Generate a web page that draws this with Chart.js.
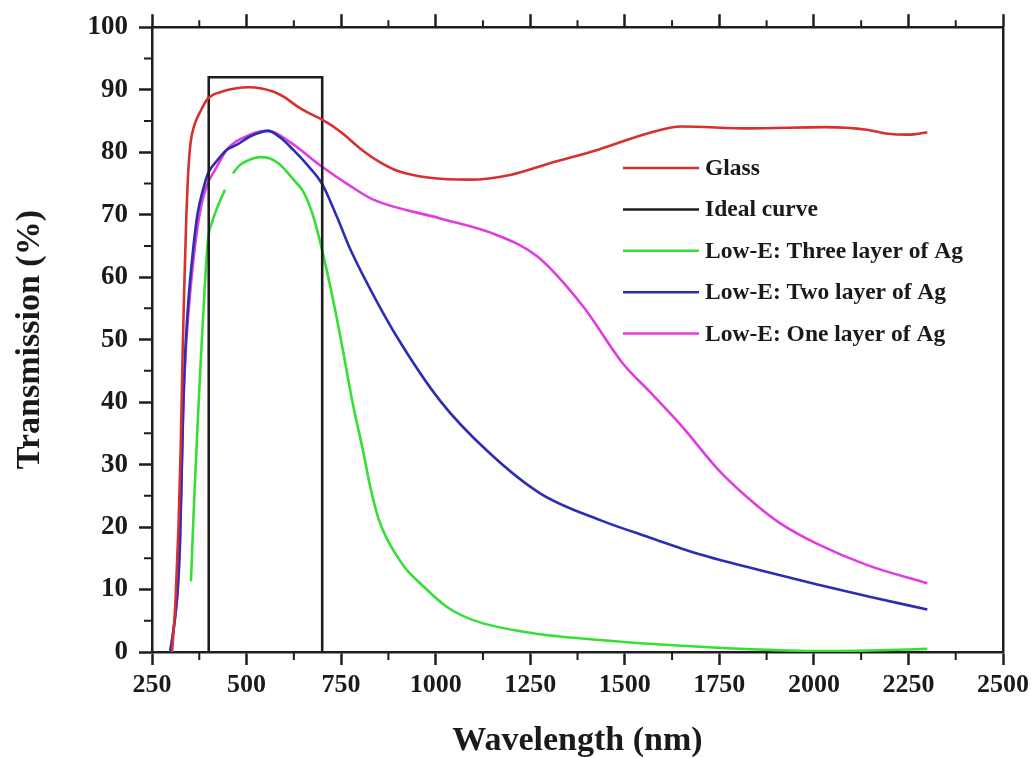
<!DOCTYPE html>
<html lang="en">
<head>
    <meta charset="UTF-8">
    <title>Transmission spectra</title>
    <script src="https://cdn.jsdelivr.net/npm/chart.js"></script>
    <style>
        html, body { margin: 0; padding: 0; background: #fff; }
        canvas { display: block; }
    </style>
</head>
<body>
    <canvas id="chart" width="1034" height="758"></canvas>

    <script>
        // tick labels
        const xTicks = [250, 500, 750, 1000, 1250, 1500, 1750, 2000, 2250, 2500];
        const yTicks = [0, 10, 20, 30, 40, 50, 60, 70, 80, 90, 100];

        // Glass
        const glassX = [303, 312, 320, 326, 331, 336, 341, 346, 352, 362, 377, 398, 430, 470, 505, 540, 570, 600, 630, 660, 700, 750, 800, 850, 900, 985, 1090, 1200, 1300, 1430, 1560, 1650, 1830, 2030, 2140, 2190, 2250, 2300];
        const glassY = [0, 8, 20, 33, 48, 60, 70, 77, 81.5, 84.3, 86.4, 88.6, 89.6, 90.2, 90.4, 90.2, 89.7, 88.8, 87.5, 86.4, 85.2, 83.2, 80.6, 78.5, 77.0, 75.9, 75.6, 76.4, 78.2, 80.4, 83.0, 84.1, 83.8, 84.0, 83.6, 83.0, 82.8, 83.2];

        // Ideal curve (box 400-700 nm)
        const idealX = [400, 400, 700, 700];
        const idealY = [0, 92, 92, 0];

        // Low-E: Three layer of Ag (gap between the two pieces)
        const threeX = [353, 356, 362, 368, 375, 381, 390, 398, 410, 425, 443, 453, 464, 480, 509, 535, 562, 585, 606, 630, 650, 675, 701, 730, 755, 780, 808, 828, 848, 868, 888, 920, 959, 1030, 1099, 1258, 1416, 1650, 1900, 2000, 2150, 2300];
        const threeY = [11.3, 16, 25, 33, 42, 49, 59, 66, 69, 71.5, 74, null, 76.6, 77.8, 78.8, 79.2, 79.0, 78.2, 76.9, 75.2, 73.7, 70, 64, 56, 48.2, 40, 32.2, 26.2, 21.5, 18.5, 16.3, 13.4, 11, 7.2, 5.1, 3, 2, 1.0, 0.3, 0.15, 0.25, 0.5];

        // Low-E: Two layer of Ag
        const twoX = [298, 310, 318, 324, 329, 333, 338, 346, 358, 370, 385, 398, 420, 448, 475, 509, 557, 590, 623, 660, 700, 740, 774, 819, 893, 1012, 1136, 1276, 1435, 1567, 1700, 1850, 2009, 2150, 2300];
        const twoY = [0, 5, 10, 18, 30, 40, 48, 56, 64, 70, 74, 76.6, 78.5, 80.4, 81.2, 82.5, 83.4, 82.3, 80.4, 78, 74.9, 69.5, 64.5, 59, 50.9, 40.2, 32.2, 25.4, 21.1, 18.3, 15.6, 13.2, 10.8, 8.8, 6.8];

        // Low-E: One layer of Ag
        const oneX = [298, 310, 318, 324, 329, 332, 339, 346, 359, 377, 394, 420, 448, 509, 557, 615, 694, 774, 835, 1012, 1163, 1269, 1390, 1496, 1567, 1650, 1750, 1850, 1911, 2009, 2141, 2300];
        const oneY = [0, 5, 10, 17, 30, 38, 48, 54, 62.5, 70.5, 74.5, 77.5, 80.4, 82.8, 83.4, 81.6, 77.9, 74.6, 72.4, 69.4, 66.7, 63.3, 55.3, 46.1, 41.6, 36.2, 29.0, 23.4, 20.6, 17.3, 13.9, 11];

        const toPoints = (xs, ys) => xs.map((x, i) => ({ x: x, y: ys[i] }));

        const axisColor = '#1e1e1e';
        const serif = 'Liberation Serif, Times New Roman, serif';

        function fixTicks(values) {
            return scale => { scale.ticks = values.map(v => ({ value: v })); };
        }

        // short minor ticks halfway between the major ones
        const minorTicks = {
            id: 'minorTicks',
            afterDraw(chart) {
                const { ctx, chartArea, scales } = chart;
                ctx.save();
                ctx.strokeStyle = axisColor;
                ctx.lineWidth = 2;
                ctx.beginPath();
                for (let i = 0; i < xTicks.length - 1; i++) {
                    const px = scales.x.getPixelForValue((xTicks[i] + xTicks[i + 1]) / 2);
                    ctx.moveTo(px, chartArea.bottom);
                    ctx.lineTo(px, chartArea.bottom + 8);
                    ctx.moveTo(px, chartArea.top);
                    ctx.lineTo(px, chartArea.top - 7);
                }
                for (let i = 0; i < yTicks.length - 1; i++) {
                    const py = scales.y.getPixelForValue((yTicks[i] + yTicks[i + 1]) / 2);
                    ctx.moveTo(chartArea.left, py);
                    ctx.lineTo(chartArea.left - 8, py);
                }
                ctx.stroke();
                ctx.restore();
            }
        };

        // legend drawn inside the plot, top right
        const insideLegend = {
            id: 'insideLegend',
            afterDraw(chart) {
                const { ctx } = chart;
                const x0 = 623, x1 = 699, tx = 705, y0 = 168, dy = 41.4;
                ctx.save();
                ctx.font = 'bold 23.5px ' + serif;
                ctx.textBaseline = 'middle';
                ctx.fillStyle = '#1a1a1a';
                chart.data.datasets.forEach((ds, i) => {
                    const y = y0 + i * dy;
                    ctx.strokeStyle = ds.borderColor;
                    ctx.lineWidth = 2.5;
                    ctx.beginPath();
                    ctx.moveTo(x0, y);
                    ctx.lineTo(x1, y);
                    ctx.stroke();
                    ctx.fillText(ds.label, tx, y + 1);
                });
                ctx.restore();
            }
        };

        const xTickFont = { family: serif, size: 26, weight: 'bold' };
        const yTickFont = { family: serif, size: 27, weight: 'bold' };
        const titleFont = { family: serif, size: 34, weight: 'bold', lineHeight: 1 };
        const gridOpts = { drawOnChartArea: false, tickLength: 13, tickWidth: 2.5, tickColor: axisColor };
        const borderOpts = { width: 2.5, color: axisColor };
        const plain = v => String(v);

        new Chart(document.getElementById('chart'), {
            type: 'line',
            data: {
                datasets: [
                    { label: 'Glass', data: toPoints(glassX, glassY), borderColor: '#d6302f' },
                    { label: 'Ideal curve', data: toPoints(idealX, idealY), borderColor: '#1e1e1e', tension: 0, cubicInterpolationMode: 'default' },
                    { label: 'Low-E: Three layer of Ag', data: toPoints(threeX, threeY), borderColor: '#35e035', spanGaps: false },
                    { label: 'Low-E: Two layer of Ag', data: toPoints(twoX, twoY), borderColor: '#2d2db4' },
                    { label: 'Low-E: One layer of Ag', data: toPoints(oneX, oneY), borderColor: '#e03ce0' }
                ]
            },
            options: {
                responsive: false,
                animation: false,
                parsing: false,
                layout: { padding: 0 },
                elements: {
                    point: { radius: 0 },
                    line: { borderWidth: 2.6, cubicInterpolationMode: 'monotone', fill: false }
                },
                plugins: {
                    legend: { display: false },
                    tooltip: { enabled: false }
                },
                scales: {
                    x: {
                        type: 'linear', position: 'bottom', min: 250, max: 2500,
                        afterBuildTicks: fixTicks(xTicks),
                        afterFit: s => { s.height = 106; },
                        grid: gridOpts, border: borderOpts,
                        ticks: { font: xTickFont, color: '#1a1a1a', padding: 5, maxRotation: 0, autoSkip: false, callback: plain },
                        title: { display: true, text: 'Wavelength (nm)', font: titleFont, color: '#1a1a1a', padding: { top: 0, bottom: 0 } }
                    },
                    x2: {
                        type: 'linear', position: 'top', min: 250, max: 2500,
                        afterBuildTicks: fixTicks(xTicks),
                        afterFit: s => { s.height = 25; },
                        grid: gridOpts, border: borderOpts,
                        ticks: { display: false }
                    },
                    y: {
                        type: 'linear', position: 'left', min: 0, max: 100,
                        afterBuildTicks: fixTicks(yTicks),
                        afterFit: s => { s.width = 152; },
                        grid: gridOpts, border: borderOpts,
                        ticks: { font: yTickFont, color: '#1a1a1a', padding: 11, callback: plain },
                        title: { display: true, text: 'Transmission (%)', font: titleFont, color: '#1a1a1a', padding: { top: 13, bottom: 0 } }
                    },
                    y2: {
                        type: 'linear', position: 'right', min: 0, max: 100,
                        afterFit: s => { s.width = 29; },
                        grid: { drawOnChartArea: false, drawTicks: false },
                        border: borderOpts,
                        ticks: { display: false }
                    }
                }
            },
            plugins: [minorTicks, insideLegend]
        });
    </script>
</body>
</html>
